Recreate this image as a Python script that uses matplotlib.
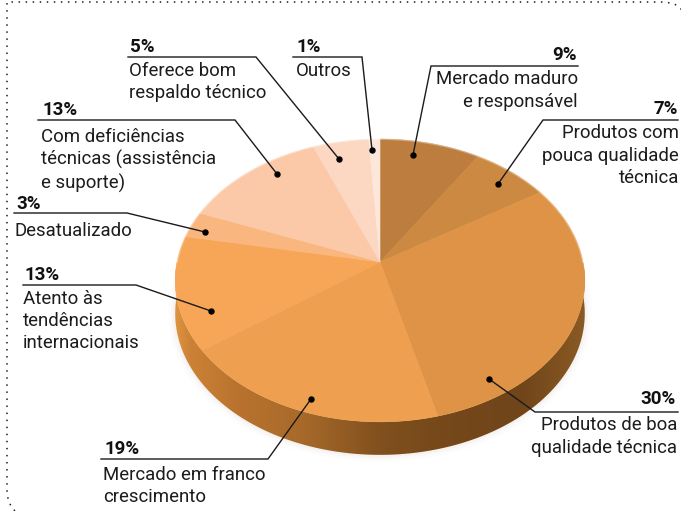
import numpy as np
import matplotlib
matplotlib.use("Agg")
import matplotlib.pyplot as plt
from matplotlib.patches import Polygon, PathPatch
from matplotlib.path import Path
from matplotlib.colors import to_rgb

values = [9, 7, 30, 19, 13, 3, 13, 5, 1]
pct_labels = ["9%", "7%", "30%", "19%", "13%", "3%", "13%", "5%", "1%"]
names = ["Mercado maduro\ne responsável",
         "Produtos com\npouca qualidade\ntécnica",
         "Produtos de boa\nqualidade técnica",
         "Mercado em franco\ncrescimento",
         "Atento às\ntendências\ninternacionais",
         "Desatualizado",
         "Com deficiências\ntécnicas (assistência\ne suporte)",
         "Oferece bom\nrespaldo técnico",
         "Outros"]
colors = ["#BC7D3E", "#CC8942", "#DE9347", "#EE9F50", "#F7A657",
          "#F9B67E", "#FBC9A8", "#FCD7C2", "#FDE6DA"]

W, H = 681, 511
fig = plt.figure(figsize=(W / 100, H / 100), dpi=100)
ax = fig.add_axes([0, 0, 1, 1])
ax.set_xlim(0, W)
ax.set_ylim(H, 0)
ax.axis("off")
plt.rcParams["font.family"] = ["Roboto", "DejaVu Sans"]

# pie seen in perspective: centre point sits above the middle of the ellipse
AX, AY = 380, 262
A, B, K = 203, 139, 0.1304
DEPTH = 33


def project(theta):
    x, y = np.sin(theta), np.cos(theta)
    w = 1 + K * y
    return AX + A * x / w, AY - B * y / w


# faint soft shadow
tt = np.linspace(0, 2 * np.pi, 400)
px, py = project(tt)
for grow, alpha in [(5, .015), (3, .025), (1.5, .04)]:
    ax.fill(px, py + DEPTH, color="#8a6a50", alpha=alpha, lw=grow * 2, zorder=1)

# side wall
lo = np.linspace(np.pi / 2 + .02, 3 * np.pi / 2 - .02, 300)
lx, ly = project(lo)
wall = np.column_stack([np.r_[lx, lx[::-1]], np.r_[ly, ly[::-1] + DEPTH]])
xstops = [174, 190, 240, 300, 380, 440, 520, 584]
cstops = ["#E0953F", "#CC8236", "#B8722E", "#A86A2A", "#80501E", "#76481A", "#70451A", "#8A5A24"]
rgb = np.array([to_rgb(c) for c in cstops])
xs = np.arange(170, 590)
grad = np.stack([np.interp(xs, xstops, rgb[:, i]) for i in range(3)], axis=-1)[None, :, :]
im = ax.imshow(grad, extent=[170, 590, 460, 250], aspect="auto", zorder=2)
ax.set_xlim(0, W)
ax.set_ylim(H, 0)
clip = Polygon(wall, closed=True, transform=ax.transData, fc="none", ec="none")
ax.add_patch(clip)
im.set_clip_path(clip)

# top face
edges = np.cumsum([0] + values) / sum(values) * 2 * np.pi
for i, c in enumerate(colors):
    t = np.linspace(edges[i], edges[i + 1], 80)
    x, y = project(t)
    ax.add_patch(Polygon(np.column_stack([np.r_[AX, x], np.r_[AY, y]]), closed=True,
                         fc=c, ec=c, lw=.4, zorder=3))
# soften the upper rim
up = np.linspace(-np.pi / 2, np.pi / 2, 200)
ux, uy = project(up)
ax.plot(ux, uy, color="white", alpha=.3, lw=1.4, zorder=3.5)

# leader lines: rule start, elbow x, rule y, dot x, dot y
INK = "#1a1a1a"
rules = [
    (578, 431, 66, 413, 155),
    (678, 543, 120, 498, 184),
    (678, 535, 412, 489, 379),
    (101, 268, 459, 311, 399),
    (23, 136, 285, 211, 311),
    (14, 127, 213, 205, 232),
    (38, 235, 120, 277, 174),
    (128, 256, 57, 339, 159),
    (293, 362, 57, 372, 150),
]
for (x0, xe, yr, xd, yd) in rules:
    ax.plot([x0, xe, xd], [yr, yr, yd], color=INK, lw=1.0, zorder=5, solid_joinstyle="miter")
    ax.plot([xd], [yd], "o", color="black", ms=4.6, mew=0, zorder=6)

# labels
anchors = [("right", 578), ("right", 679), ("right", 677), ("left", 103), ("left", 23),
           ("left", 15), ("left", 41), ("left", 129), ("left", 296)]
name_gap = [6, 6, 6, 8, 6, 10, 9, 6, 7]
pct_gap = [6, 6, 8, 5, 5, 4, 5, 5, 5]
rule_y = [r[2] for r in rules]
for pct, name, (ha, xa), yr, ng, pg in zip(pct_labels, names, anchors, rule_y, name_gap, pct_gap):
    xp = xa - 1 if ha == "right" else xa + 1
    ax.text(xp, yr - pg, pct, ha=ha, va="baseline", fontsize=13.5, fontweight="bold",
            color="#111111", zorder=7)
    ax.text(xa, yr + ng - 1.5, name, ha=ha, va="top", fontsize=13.4, color="#1c1c1c",
            linespacing=1.3, zorder=7, multialignment=ha)

# dotted frame
frame = Path([(681, 9), (676, 2), (660, 2), (7, 2), (7, 490), (7, 503), (15, 511)],
             [Path.MOVETO, Path.CURVE3, Path.CURVE3, Path.LINETO, Path.LINETO, Path.CURVE3, Path.CURVE3])
ax.add_patch(PathPatch(frame, fc="none", ec="#222222", lw=1.3,
                       linestyle=(0, (0.01, 3.9)), capstyle="round", zorder=4))

fig.savefig("out.png", dpi=100)
